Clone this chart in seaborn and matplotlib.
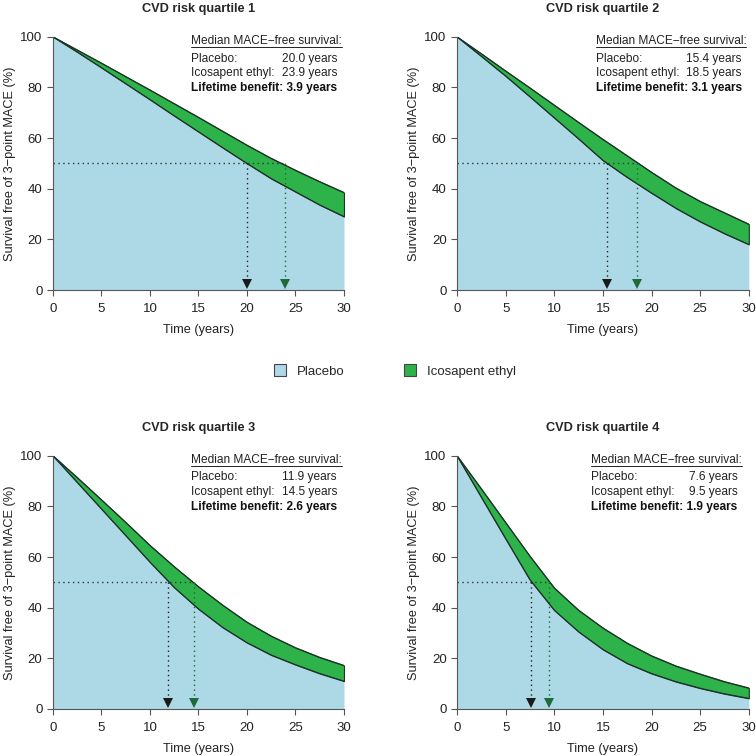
import seaborn as sns
import matplotlib.pyplot as plt
import pandas as pd
from matplotlib.patches import Patch
from matplotlib.lines import Line2D

# time grid (years)
years = [0, 2.5, 5, 7.5, 10, 12.5, 15, 17.5, 20, 22.5, 25, 27.5, 30]

# survival free of 3-point MACE (%)
q1_placebo = [100, 94, 87.8, 81.5, 75.2, 68.8, 62.5, 56.2, 50, 44, 38.8, 33.6, 29]
q1_ipe = [100, 94.8, 89.6, 84.3, 79, 73.6, 68.2, 62.7, 57.2, 52, 47.3, 42.8, 38.5]
q2_placebo = [100, 92.3, 84.5, 76.3, 68, 59.7, 51.2, 44.5, 38.3, 32.3, 27, 22.3, 18]
q2_ipe = [100, 93.3, 86.5, 79.8, 73, 66.2, 59.5, 53, 46.5, 40.3, 35, 30.5, 26]
q3_placebo = [100, 89.5, 79, 68.5, 58, 48, 39.5, 32.2, 26.2, 21.3, 17.5, 14, 11]
q3_ipe = [100, 91.4, 82.6, 73.7, 64.6, 56.2, 48.3, 41, 34.3, 28.8, 24.2, 20.4, 17.2]
q4_placebo = [100, 83.6, 67.2, 51, 39, 30.5, 23.5, 18, 14, 10.8, 8.2, 6, 4.2]
q4_ipe = [100, 86.9, 73.6, 60.3, 47.8, 39, 32, 26, 21, 17, 13.8, 10.8, 8.3]

quartiles = ["CVD risk quartile 1", "CVD risk quartile 2",
             "CVD risk quartile 3", "CVD risk quartile 4"]
placebo_curves = [q1_placebo, q2_placebo, q3_placebo, q4_placebo]
ipe_curves = [q1_ipe, q2_ipe, q3_ipe, q4_ipe]
median_placebo = [20.0, 15.4, 11.9, 7.6]
median_ipe = [23.9, 18.5, 14.5, 9.5]
benefit = [3.9, 3.1, 2.6, 1.9]

BLUE = "#add8e6"
GREEN = "#2db34a"
EDGE = "#1c3526"
DKGREEN = "#1e6a38"
TXT = "#222222"

sns.set_style("ticks")
plt.rcParams["font.family"] = ["Liberation Sans", "DejaVu Sans"]

fig = plt.figure(figsize=(7.56, 7.56), dpi=100)
positions = [
    [0.070, 0.6164, 0.385, 0.335],
    [0.6045, 0.6164, 0.386, 0.335],
    [0.070, 0.0622, 0.385, 0.335],
    [0.6045, 0.0622, 0.386, 0.335],
]
text_right = [0.976, 0.976, 0.976, 0.962]
FS = 9.2
AFS = 8.6

axes = []
blocks = []
for i in range(4):
    ax = fig.add_axes(positions[i])
    axes.append(ax)
    df = pd.DataFrame({"time": years, "placebo": placebo_curves[i], "ipe": ipe_curves[i]})

    ax.fill_between(df.time, 0, df.placebo, color=BLUE, linewidth=0)
    ax.fill_between(df.time, df.placebo, df.ipe, facecolor=GREEN,
                    edgecolor=EDGE, linewidth=0.8)
    sns.lineplot(x="time", y="placebo", data=df, color=EDGE, linewidth=0.8, ax=ax)
    sns.lineplot(x="time", y="ipe", data=df, color=EDGE, linewidth=0.8, ax=ax)

    # median markers
    mp, mi = median_placebo[i], median_ipe[i]
    ax.plot([0, mi], [50, 50], linestyle=(0, (1, 2.5)), color="#333333", linewidth=1)
    ax.plot([mp, mp], [50, 2], linestyle=(0, (1, 2.5)), color="#222222", linewidth=1)
    ax.plot([mi, mi], [50, 2], linestyle=(0, (1, 2.5)), color=DKGREEN, linewidth=1)
    ax.plot([mp], [2.4], marker="v", color="#1a1a1a", ms=7.5, mew=0)
    ax.plot([mi], [2.4], marker="v", color=DKGREEN, ms=7.5, mew=0)

    ax.set_xlim(0, 30)
    ax.set_ylim(0, 100)
    ax.set_xticks(range(0, 31, 5))
    ax.set_yticks(range(0, 101, 20))
    ax.tick_params(labelsize=FS + 0.3, length=4, width=0.8, color="#555555", labelcolor=TXT)
    ax.tick_params(axis="x", pad=5.5)
    for s in ["left", "bottom"]:
        ax.spines[s].set_color("#555555")
        ax.spines[s].set_linewidth(0.8)
    sns.despine(ax=ax)
    ax.set_xlabel("Time (years)", fontsize=FS, color=TXT, labelpad=6.5)
    ax.set_ylabel("Survival free of 3\u2212point MACE (%)", fontsize=FS, color=TXT, labelpad=3)
    ax.set_title(quartiles[i], fontsize=FS, fontweight="bold", pad=18)

    # annotation block
    r = text_right[i]
    head = ax.text(0.5, 0.982, "Median MACE\u2212free survival:", transform=ax.transAxes,
                   fontsize=AFS, va="center", ha="left", color=TXT)
    l1 = ax.text(0.5, 0.914, "Placebo:", transform=ax.transAxes, fontsize=AFS,
                 va="center", color=TXT)
    l2 = ax.text(0.5, 0.857, "Icosapent ethyl:", transform=ax.transAxes, fontsize=AFS,
                 va="center", color=TXT)
    ax.text(r, 0.914, "{:.1f} years".format(mp), transform=ax.transAxes,
            fontsize=AFS, va="center", ha="right", color=TXT)
    ax.text(r, 0.857, "{:.1f} years".format(mi), transform=ax.transAxes,
            fontsize=AFS, va="center", ha="right", color=TXT)
    lb = ax.text(r, 0.798, "Lifetime benefit: {:.1f} years".format(benefit[i]),
                 transform=ax.transAxes, fontsize=AFS, va="center", ha="right",
                 fontweight="bold", color="#111111")
    blocks.append((head, l1, l2, lb))

# left-align the block to the benefit line, underline the header
fig.canvas.draw()
renderer = fig.canvas.get_renderer()
for ax, (head, l1, l2, lb) in zip(axes, blocks):
    inv = ax.transAxes.inverted()
    x0 = lb.get_window_extent(renderer).transformed(inv).x0
    for t in (head, l1, l2):
        t.set_x(x0)
    bb = head.get_window_extent(renderer).transformed(inv)
    ax.add_line(Line2D([bb.x0, bb.x1], [bb.y0 + 0.003, bb.y0 + 0.003], transform=ax.transAxes,
                       color=TXT, linewidth=0.7, clip_on=False))

handles = [Patch(facecolor=BLUE, edgecolor="#444444", linewidth=0.8, label="Placebo"),
           Patch(facecolor=GREEN, edgecolor="#444444", linewidth=0.8, label="Icosapent ethyl")]
fig.legend(handles=handles, loc="center", bbox_to_anchor=(0.522, 0.509), ncol=2,
           frameon=False, fontsize=FS + 0.3, handlelength=0.95, handleheight=1.0,
           columnspacing=4.5, handletextpad=0.8)

fig.savefig("out.png", dpi=100)
